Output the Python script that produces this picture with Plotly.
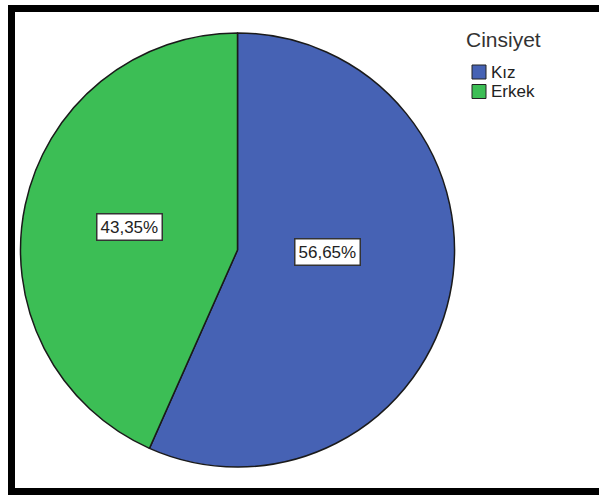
import plotly.graph_objects as go

# Gender distribution
labels = ["Kız", "Erkek"]
values = [56.65, 43.35]
colors = ["#4662B4", "#3CBE55"]
legend_title = "Cinsiyet"

W, H = 599, 495

def px_x(x):
    return x / W

def px_y(y):
    return 1 - y / H

# Pie geometry (pixels)
cx, cy, r = 237.5, 250, 217

fig = go.Figure(
    go.Pie(
        labels=labels,
        values=values,
        marker=dict(colors=colors, line=dict(color="#1a1a1a", width=1.5)),
        sort=False,
        direction="clockwise",
        rotation=0,
        textinfo="none",
        hoverinfo="label+percent",
        showlegend=False,
        domain=dict(
            x=[px_x(cx - r), px_x(cx + r)],
            y=[px_y(cy + r), px_y(cy - r)],
        ),
    )
)

def fmt_pct(v):
    return f"{v:.2f}".replace(".", ",") + "%"

# Percentage label anchors (pixels)
label_pos = [(327, 251.5), (129.5, 227.5)]
annotations = []
for v, (lx, ly) in zip(values, label_pos):
    annotations.append(dict(
        x=px_x(lx), y=px_y(ly), xref="paper", yref="paper",
        text=fmt_pct(v), showarrow=False,
        font=dict(family="Liberation Sans, Arial", size=17, color="#222222"),
        bgcolor="white", bordercolor="#333333", borderwidth=1.5, borderpad=3,
        xanchor="center", yanchor="middle",
    ))

# Legend drawn by hand
shapes = []
annotations.append(dict(
    x=px_x(464), y=px_y(40), xref="paper", yref="paper",
    text=legend_title, showarrow=False,
    font=dict(family="Liberation Sans, Arial", size=21, color="#333333"),
    xanchor="left", yanchor="middle",
))
for i, (lab, col) in enumerate(zip(labels, colors)):
    yc = 72 + i * 19.5
    shapes.append(dict(
        type="rect", xref="paper", yref="paper",
        x0=px_x(472), x1=px_x(486), y0=px_y(yc + 7), y1=px_y(yc - 7),
        fillcolor=col, line=dict(color="#222222", width=1),
    ))
    annotations.append(dict(
        x=px_x(489), y=px_y(yc), xref="paper", yref="paper",
        text=lab, showarrow=False,
        font=dict(family="Liberation Sans, Arial", size=17, color="#222222"),
        xanchor="left", yanchor="middle",
    ))

# Heavy outer frame
shapes.append(dict(
    type="rect", xref="paper", yref="paper",
    x0=px_x(11.5), x1=px_x(620), y0=px_y(491.5), y1=px_y(8.5),
    line=dict(color="black", width=7), fillcolor="rgba(0,0,0,0)",
))

fig.update_layout(
    width=W, height=H,
    margin=dict(l=0, r=0, t=0, b=0),
    paper_bgcolor="white",
    plot_bgcolor="white",
    shapes=shapes,
    annotations=annotations,
)

fig.write_html("out.html")
